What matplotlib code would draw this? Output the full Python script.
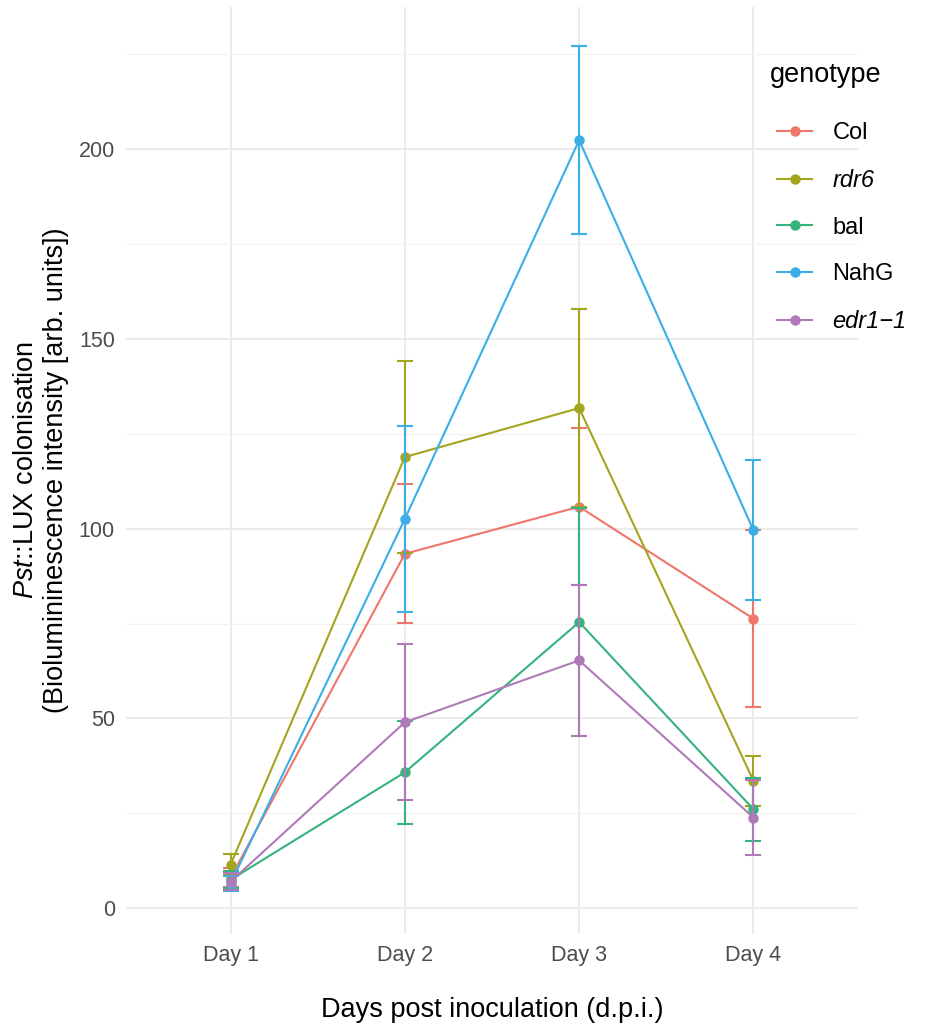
import numpy as np
import matplotlib.pyplot as plt

plt.rcParams['font.family'] = ['Liberation Sans', 'DejaVu Sans']
plt.rcParams['mathtext.fontset'] = 'custom'
plt.rcParams['mathtext.rm'] = 'Liberation Sans'
plt.rcParams['mathtext.it'] = 'Liberation Sans:italic'

days = ['Day 1', 'Day 2', 'Day 3', 'Day 4']
genotypes = ['Col', 'rdr6', 'bal', 'NahG', 'edr1\u22121']
italic = [False, True, False, False, True]
colors = ['#EF766B', '#A3A51E', '#36B37D', '#3BAEE6', '#B07AB8']

# mean and standard error per genotype, per day
means = {
    'Col':        [8.0, 93.4, 105.8, 76.3],
    'rdr6':       [11.5, 118.9, 131.8, 33.6],
    'bal':        [7.5, 35.8, 75.4, 26.1],
    'NahG':       [6.5, 102.6, 202.4, 99.6],
    'edr1\u22121': [7.0, 49.0, 65.3, 23.9],
}
errs = {
    'Col':        [2.5, 18.3, 20.7, 23.3],
    'rdr6':       [2.8, 25.3, 26.0, 6.6],
    'bal':        [2.2, 13.5, 30.0, 8.3],
    'NahG':       [2.0, 24.5, 24.7, 18.5],
    'edr1\u22121': [2.3, 20.5, 19.8, 10.0],
}

fig = plt.figure(figsize=(9.28, 10.24), dpi=100)
ax = fig.add_axes([126/928, 90/1024, 732/928, 927/1024])

x = np.arange(1, len(days) + 1)
for g, c in zip(genotypes, colors):
    ax.plot(x, means[g], color=c, lw=1.5, marker='o', ms=6.5, label=g, zorder=3)
    ax.errorbar(x, means[g], yerr=errs[g], fmt='none', ecolor=c, elinewidth=1.5,
                capsize=6, capthick=1.5, zorder=3)

ax.set_xlim(0.4, 4.6)
ax.set_ylim(-6.8, 237.5)
ax.set_xticks(x)
ax.set_xticklabels(days)
ax.set_yticks([0, 50, 100, 150, 200])
ax.set_yticks([25, 75, 125, 175, 225], minor=True)
ax.grid(True, which='major', color='#EBEBEB', lw=1.5, zorder=0)
ax.grid(True, which='minor', axis='y', color='#F2F2F2', lw=0.9, zorder=0)
ax.set_axisbelow(True)
for s in ax.spines.values():
    s.set_visible(False)
ax.tick_params(which='both', length=0, labelsize=15.5, labelcolor='#4D4D4D', pad=8)

ax.set_xlabel('Days post inoculation (d.p.i.)', fontsize=19.5, color='black', labelpad=22)
ax.set_ylabel('$\\it{Pst}$::LUX colonisation\n(Biolumininescence intensity [arb. units])',
              fontsize=19.5, color='black', labelpad=7)

fig.text(770/928, 1 - 75/1024, 'genotype', fontsize=19.5, va='center', ha='left')
leg = ax.legend(loc='upper left', bbox_to_anchor=(777/928, 1 - 122/1024),
                bbox_transform=fig.transFigure, frameon=False, fontsize=17,
                handlelength=1.5, labelspacing=1.05, handletextpad=0.85,
                borderaxespad=0, borderpad=0)
for t, it in zip(leg.get_texts(), italic):
    if it:
        t.set_fontstyle('italic')

fig.savefig('out.png', dpi=100)
